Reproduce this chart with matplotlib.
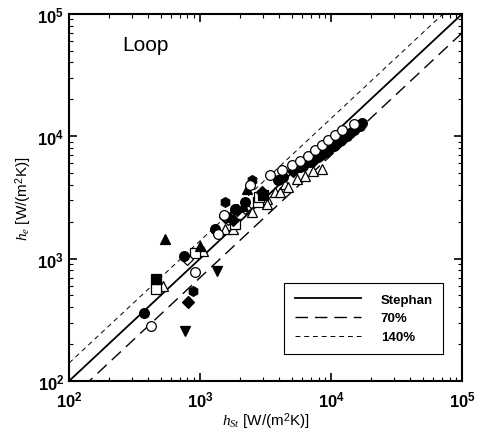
import numpy as np
import matplotlib
matplotlib.use('Agg')
import matplotlib.pyplot as plt
from matplotlib.ticker import LogLocator, FuncFormatter

plt.rcParams['font.family'] = ['Liberation Sans', 'DejaVu Sans']
plt.rcParams['mathtext.fontset'] = 'custom'
plt.rcParams['mathtext.rm'] = 'Liberation Sans'
plt.rcParams['mathtext.bf'] = 'Liberation Sans:bold'
plt.rcParams['mathtext.it'] = 'Liberation Serif:italic'

# data: (h_St, h_e) in W/(m2K)
fc_x = [376, 747, 1302, 1850, 2210, 3960, 4310, 6110, 8400, 10920, 13970, 17260]
fc_y = [358, 1059, 1750, 2550, 2890, 4350, 4660, 5720, 7050, 8670, 10670, 12880]
fb_x = [5800, 6920, 7960, 9160, 10540, 11720, 13250, 14990, 16640]
fb_y = [5620, 6180, 6790, 7450, 8350, 9170, 10070, 11270, 12170]
oc_x = [422, 906, 1380, 1530, 2410, 3420, 4210, 5020, 5800, 6710, 7550, 8490, 9530, 10730, 12070, 14800]
oc_y = [283, 774, 1593, 2250, 3955, 4780, 5250, 5760, 6320, 6950, 7640, 8400, 9230, 10140, 11140, 12620]
fd_x = [805, 1795, 1906, 2960, 5130, 7290, 9660, 12350, 15520]
fd_y = [440, 2050, 2470, 3490, 5210, 6290, 7890, 9530, 11720]
od_x = [800, 1552, 1636, 2200]
od_y = [995, 2180, 2114, 2600]
fs_x = [461, 3000]
fs_y = [683, 3300]
os_x = [461, 916, 1850, 2786, 2790]
os_y = [565, 1107, 1900, 2890, 3180]
ft_x = [541, 1000, 1700, 2140, 2276]
ft_y = [1449, 1276, 2200, 2710, 3715]
ot_x = [525, 1050, 1550, 1795, 2480, 3230, 3230, 3740, 4080, 4450, 4700, 5450, 6300, 7300, 8490]
ot_y = [601, 1161, 1750, 1750, 2390, 3080, 2800, 3490, 3490, 4090, 3830, 4470, 4770, 5230, 5410]
fv_x = [760, 1356]
fv_y = [258, 798]
fh_x = [889, 1550, 2484]
fh_y = [547, 2890, 4350]

line_x = np.array([1e2, 1e5])
ratios = [1.0, 0.7, 1.4]
line_labels = ['Stephan', '70%', '140%']

fig = plt.figure(figsize=(4.8, 4.35), dpi=100)
ax = fig.add_axes([0.144, 0.122, 0.819, 0.844])

ax.plot(line_x, line_x * ratios[0], color='k', lw=1.3, label=line_labels[0], zorder=1)
ax.plot(line_x, line_x * ratios[1], color='k', lw=1.0, dashes=(9, 5), label=line_labels[1], zorder=1)
ax.plot(line_x, line_x * ratios[2], color='k', lw=0.7, dashes=(5, 4), label=line_labels[2], zorder=1)

def pts(x, y, marker, face, ms=7):
    ax.plot(x, y, ls='none', marker=marker, markerfacecolor=face,
            markeredgecolor='k', markeredgewidth=0.9, ms=ms, zorder=3)

pts(ot_x, ot_y, '^', 'white')
pts(os_x, os_y, 's', 'white')
pts(od_x, od_y, 'D', 'white', ms=6)
pts(fb_x, fb_y, 'o', 'k')
pts(fc_x, fc_y, 'o', 'k')
pts(fd_x, fd_y, 'D', 'k', ms=6)
pts(fs_x, fs_y, 's', 'k')
pts(ft_x, ft_y, '^', 'k')
pts(fv_x, fv_y, 'v', 'k')
pts(fh_x, fh_y, 'h', 'k')
pts(oc_x, oc_y, 'o', 'white')

ax.set_xscale('log')
ax.set_yscale('log')
ax.set_xlim(1e2, 1e5)
ax.set_ylim(1e2, 1e5)

fmt = FuncFormatter(lambda v, p: r'$\mathbf{10^{%d}}$' % round(np.log10(v)))
for axis in (ax.xaxis, ax.yaxis):
    axis.set_major_locator(LogLocator(base=10, numticks=10))
    axis.set_minor_locator(LogLocator(base=10, subs=np.arange(2, 10), numticks=10))
    axis.set_major_formatter(fmt)
ax.tick_params(which='both', direction='in', top=True, right=True, labelsize=12)
ax.tick_params(which='major', length=6, width=1.2)
ax.tick_params(which='minor', length=3, width=0.8)
ax.tick_params(axis='x', pad=6)
for s in ax.spines.values():
    s.set_linewidth(1.5)

ax.set_xlabel(r'$h_{St}$ [W/(m$^2$K)]', fontsize=11, labelpad=1)
ax.set_ylabel(r'$h_e$ [W/(m$^2$K)]', fontsize=11, labelpad=2)

ax.text(0.135, 0.915, 'Loop', transform=ax.transAxes, fontsize=15, va='center')

leg = ax.legend(loc='lower right', bbox_to_anchor=(0.952, 0.074), borderaxespad=0,
                fancybox=False, edgecolor='k', framealpha=1, handlelength=5,
                borderpad=0.8, labelspacing=0.5, handletextpad=1.5,
                prop={'weight': 'bold', 'size': 9.5})
leg.get_frame().set_linewidth(0.8)

fig.savefig('out.png', dpi=100)
